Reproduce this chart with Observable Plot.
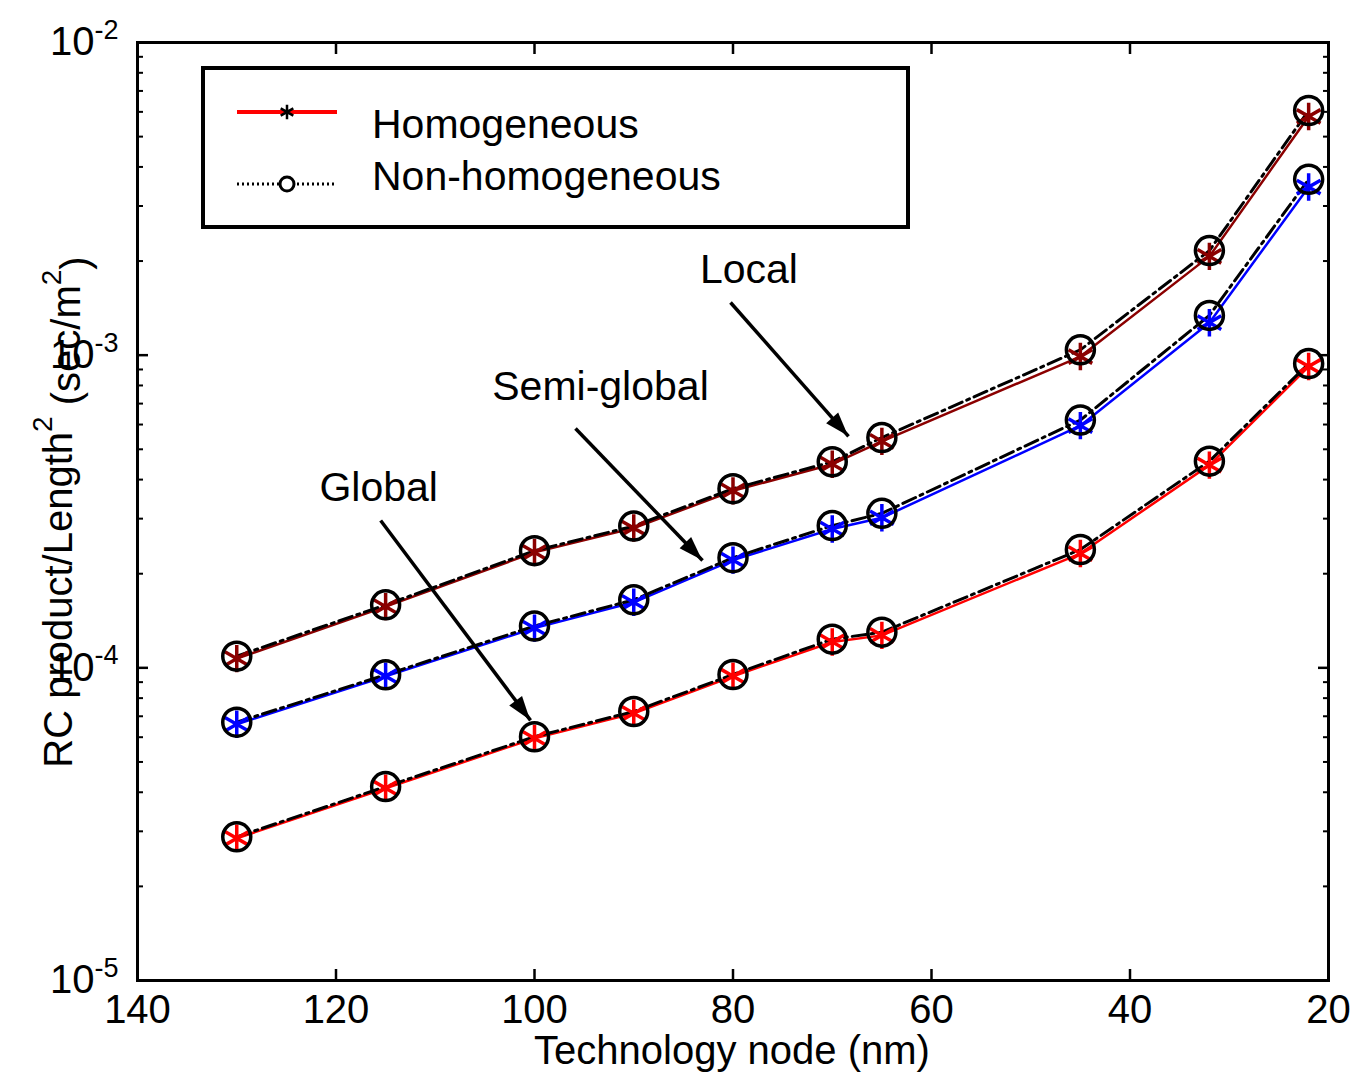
<!DOCTYPE html>
<html><head><meta charset="utf-8">
<script src="https://cdn.jsdelivr.net/npm/d3@7"></script>
<script src="https://cdn.jsdelivr.net/npm/@observablehq/plot@0.6"></script>
<style>body{margin:0;background:#fff} #chart{position:relative;width:1353px;height:1073px}</style>
</head><body><div id="chart"></div>
<script>
// ---- data ----
const nodes = [130, 115, 100, 90, 80, 70, 65, 45, 32, 22];
const seriesNames = ["Local", "Semi-global", "Global"];
const seriesColors = ["#8b0000", "#0000ff", "#ff0000"];
const localHom  = [1.07e-4, 1.57e-4, 2.34e-4, 2.80e-4, 3.68e-4, 4.48e-4, 5.30e-4, 0.99e-3, 2.07e-3, 5.80e-3];
const localNon  = [1.09e-4, 1.59e-4, 2.37e-4, 2.84e-4, 3.74e-4, 4.56e-4, 5.45e-4, 1.04e-3, 2.16e-3, 6.06e-3];
const semiHom   = [6.60e-5, 9.40e-5, 1.34e-4, 1.62e-4, 2.21e-4, 2.78e-4, 3.02e-4, 5.95e-4, 1.27e-3, 3.45e-3];
const semiNon   = [6.70e-5, 9.50e-5, 1.36e-4, 1.65e-4, 2.25e-4, 2.85e-4, 3.12e-4, 6.20e-4, 1.34e-3, 3.65e-3];
const globalHom = [2.85e-5, 4.12e-5, 5.95e-5, 7.15e-5, 9.40e-5, 1.21e-4, 1.27e-4, 2.32e-4, 4.45e-4, 9.20e-4];
const globalNon = [2.88e-5, 4.17e-5, 6.02e-5, 7.25e-5, 9.52e-5, 1.235e-4, 1.30e-4, 2.39e-4, 4.58e-4, 9.40e-4];
const xTicks = [140, 120, 100, 80, 60, 40, 20];
const yMajor = [1e-5, 1e-4, 1e-3, 1e-2];
const yMinor = [2,3,4,5,6,7,8,9].flatMap(k => [1e-5, 1e-4, 1e-3].map(e => k * e));
const annLabels = ["Local", "Semi-global", "Global"];
const annX = [78.4, 93.35, 115.7];
const annY = [1.87e-3, 7.94e-4, 3.75e-4];
const arrowX1 = [80.25, 95.87, 115.5];
const arrowY1 = [1.474e-3, 5.83e-4, 2.96e-4];
const arrowX2 = [68.36, 83.07, 100.4];
const arrowY2 = [5.50e-4, 2.205e-4, 6.79e-5];
const legendLabels = ["Homogeneous", "Non-homogeneous"];

// ---- tables ----
const homSets = [localHom, semiHom, globalHom];
const nonSets = [localNon, semiNon, globalNon];
const hom = [], non = [];
seriesNames.forEach((s, i) => {
  nodes.forEach((n, j) => {
    hom.push({group: s, color: seriesColors[i], x: n, y: homSets[i][j]});
    non.push({group: s, x: n, y: nonSets[i][j]});
  });
});
const ann = annLabels.map((t, i) => ({t, x: annX[i], y: annY[i]}));
const arrows = annLabels.map((t, i) => ({x1: arrowX1[i], y1: arrowY1[i], x2: arrowX2[i], y2: arrowY2[i]}));

const FONT = "'Liberation Sans', Arial, Helvetica, sans-serif";
const blank = () => "";

const chart = Plot.plot({
  width: 1353, height: 1073,
  marginLeft: 137, marginRight: 25, marginTop: 42, marginBottom: 93,
  style: {fontFamily: FONT, background: "white", color: "black"},
  x: {domain: [140, 20], label: null},
  y: {type: "log", domain: [1e-5, 1e-2], label: null},
  marks: [
    Plot.line(hom, {x: "x", y: "y", z: "group", stroke: "color", strokeWidth: 2.5}),
    Plot.line(non, {x: "x", y: "y", z: "group", stroke: "black", strokeWidth: 3, strokeDasharray: "14,5,3,5"}),
    Plot.dot(hom, {x: "x", y: "y", symbol: "asterisk", r: 13, stroke: "color", strokeWidth: 3.5}),
    Plot.dot(non, {x: "x", y: "y", r: 14, stroke: "black", strokeWidth: 3.5, fill: "none"}),
    Plot.link(arrows, {x1: "x1", y1: "y1", x2: "x2", y2: "y2", stroke: "black", strokeWidth: 3.5}),
    Plot.text(ann, {x: "x", y: "y", text: "t", fontSize: 41, fill: "black"}),
    Plot.frame({stroke: "black", strokeWidth: 3}),
    Plot.axisX({anchor: "bottom", ticks: xTicks, tickSize: 0, tickPadding: 14, fontSize: 40, label: null}),
    Plot.axisX({anchor: "bottom", ticks: xTicks, tickSize: -11, tickFormat: blank, strokeWidth: 2.5, label: null}),
    Plot.axisX({anchor: "top", ticks: xTicks, tickSize: -11, tickFormat: blank, strokeWidth: 2.5, label: null}),
    Plot.axisY({anchor: "left", ticks: yMajor, tickSize: 0, tickPadding: 19, fontSize: 40, label: null,
                tickFormat: d => "10^" + Math.round(Math.log10(d))}),
    Plot.axisY({anchor: "left", ticks: yMajor, tickSize: -11, tickFormat: blank, strokeWidth: 2.5, label: null}),
    Plot.axisY({anchor: "left", ticks: yMinor, tickSize: -6, tickFormat: blank, strokeWidth: 2, label: null}),
    Plot.axisY({anchor: "right", ticks: yMajor, tickSize: -11, tickFormat: blank, strokeWidth: 2.5, label: null}),
    Plot.axisY({anchor: "right", ticks: yMinor, tickSize: -6, tickFormat: blank, strokeWidth: 2, label: null})
  ]
});
document.getElementById("chart").appendChild(chart);

const svg = d3.select(chart);
// superscript exponents on y tick labels
svg.selectAll("text").each(function() {
  const s = this.textContent;
  if (/^10\^-?\d+$/.test(s)) {
    const e = s.split("^")[1];
    const t = d3.select(this);
    t.text(null);
    t.append("tspan").text("10");
    t.append("tspan").attr("font-size", 27).attr("dy", "-0.6em").text(e);
  }
});

// filled arrow heads, placed through the plot's own scales
const sx = chart.scale("x"), sy = chart.scale("y");
arrows.forEach(a => {
  const X1 = sx.apply(a.x1), Y1 = sy.apply(a.y1), X2 = sx.apply(a.x2), Y2 = sy.apply(a.y2);
  const ang = Math.atan2(Y2 - Y1, X2 - X1), L = 24, W = 8;
  const bx = X2 - L * Math.cos(ang), by = Y2 - L * Math.sin(ang);
  const px = -Math.sin(ang) * W, py = Math.cos(ang) * W;
  svg.append("path").attr("d", `M${X2},${Y2}L${bx + px},${by + py}L${bx - px},${by - py}Z`).attr("fill", "black");
});

// axis titles
const yl = svg.append("text")
  .attr("transform", "translate(72,512) rotate(-90)")
  .attr("text-anchor", "middle").attr("font-family", FONT).attr("font-size", 40).attr("fill", "black");
yl.append("tspan").text("RC product/Length");
yl.append("tspan").attr("font-size", 28).attr("dy", "-0.7em").text("2");
yl.append("tspan").attr("dy", "0.7em").text(" (sec/m");
yl.append("tspan").attr("font-size", 28).attr("dy", "-0.7em").text("2");
yl.append("tspan").attr("dy", "0.7em").text(")");

svg.append("text").attr("x", 732).attr("y", 1064).attr("text-anchor", "middle")
  .attr("font-family", FONT).attr("font-size", 40).attr("fill", "black").text("Technology node (nm)");

// legend
const lg = svg.append("g");
lg.append("rect").attr("x", 203).attr("y", 68).attr("width", 705).attr("height", 159)
  .attr("fill", "white").attr("stroke", "black").attr("stroke-width", 4);
lg.append("line").attr("x1", 237).attr("x2", 337).attr("y1", 112).attr("y2", 112)
  .attr("stroke", "#ff0000").attr("stroke-width", 4);
lg.append("path").attr("transform", "translate(287,112)")
  .attr("d", d3.symbol(d3.symbolAsterisk, 150)()).attr("stroke", "black").attr("stroke-width", 2.5).attr("fill", "none");
lg.append("line").attr("x1", 237).attr("x2", 337).attr("y1", 184).attr("y2", 184)
  .attr("stroke", "black").attr("stroke-width", 3).attr("stroke-dasharray", "2,3");
lg.append("circle").attr("cx", 287).attr("cy", 184).attr("r", 7)
  .attr("stroke", "black").attr("stroke-width", 3).attr("fill", "white");
legendLabels.forEach((t, i) => {
  lg.append("text").attr("x", 372).attr("y", i === 0 ? 138 : 190).attr("text-anchor", "start")
    .attr("font-family", FONT).attr("font-size", 41).attr("fill", "black").text(t);
});
</script>
</body></html>
